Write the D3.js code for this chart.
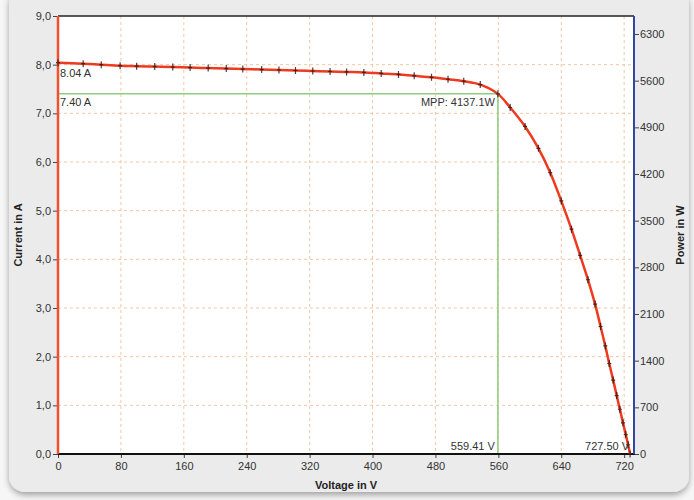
<!DOCTYPE html>
<html>
<head>
<meta charset="utf-8">
<script src="https://d3js.org/d3.v7.min.js"></script>
<style>
  body { margin: 0; background: #f6f6f6; }
  text { font-family: "Liberation Sans", Arial, sans-serif; }
</style>
</head>
<body></body>
<script>
  // I-V curve of a PV string
  var voltage = [0, 32, 55, 79, 100, 123, 146, 168, 191, 214, 235, 259, 281, 302, 324, 346, 367, 389,
                 411, 433, 453, 475, 496, 516, 537, 559.41, 575, 594, 611, 626, 640, 653, 664, 674, 683,
                 690, 696, 701, 706, 710.5, 714.5, 718.5, 722, 725, 727.5];
  var current = [8.04, 8.02, 8.00, 7.98, 7.97, 7.96, 7.95, 7.94, 7.93, 7.92, 7.91, 7.90, 7.89, 7.88, 7.87, 7.86, 7.85, 7.84,
                 7.82, 7.80, 7.77, 7.74, 7.70, 7.66, 7.59, 7.40, 7.12, 6.73, 6.28, 5.78, 5.20, 4.62, 4.08, 3.58, 3.08,
                 2.62, 2.22, 1.86, 1.52, 1.20, 0.92, 0.64, 0.40, 0.19, 0];
  var voltTicks = [0, 80, 160, 240, 320, 400, 480, 560, 640, 720];
  var currTicks = [0, 1, 2, 3, 4, 5, 6, 7, 8, 9];
  var powerTicks = [0, 700, 1400, 2100, 2800, 3500, 4200, 4900, 5600, 6300];
  var mppV = 559.41, mppI = 7.40, mppP = 4137.1;
  var iscI = 8.04, vocV = 727.50;

  var width = 694, height = 500;
  var plotL = 58, plotR = 634, plotT = 16, plotB = 454;

  var svg = d3.select("body").append("svg")
    .attr("width", width)
    .attr("height", height);

  // panel with shadow
  var defs = svg.append("defs");
  var f = defs.append("filter").attr("id", "shadow").attr("x", "-5%").attr("y", "-5%").attr("width", "110%").attr("height", "115%");
  f.append("feDropShadow").attr("dx", 0).attr("dy", 3).attr("stdDeviation", 3).attr("flood-color", "#000").attr("flood-opacity", 0.35);

  svg.append("rect")
    .attr("x", 9).attr("y", -12)
    .attr("width", 680).attr("height", 504)
    .attr("rx", 16)
    .style("fill", "#ebebeb")
    .attr("filter", "url(#shadow)");

  var x = d3.scaleLinear().domain([0, 732.5]).range([plotL, plotR]);
  var y = d3.scaleLinear().domain([0, 9]).range([plotB, plotT]);
  var yP = d3.scaleLinear().domain([0, 6570]).range([plotB, plotT]);

  // plot background
  svg.append("rect")
    .attr("x", plotL).attr("y", plotT)
    .attr("width", plotR - plotL).attr("height", plotB - plotT)
    .style("fill", "white");

  // grid
  var grid = svg.append("g");
  grid.selectAll("line.vx")
    .data(voltTicks.filter(function(d) { return d > 0; }))
    .enter().append("line")
    .attr("x1", function(d) { return x(d); })
    .attr("x2", function(d) { return x(d); })
    .attr("y1", plotT).attr("y2", plotB)
    .attr("stroke", "#f3c7a6")
    .attr("stroke-width", 1)
    .attr("stroke-dasharray", "3,3");
  grid.selectAll("line.hy")
    .data(currTicks.filter(function(d) { return d > 0 && d < 9; }))
    .enter().append("line")
    .attr("x1", plotL).attr("x2", plotR)
    .attr("y1", function(d) { return y(d); })
    .attr("y2", function(d) { return y(d); })
    .attr("stroke", "#f3c7a6")
    .attr("stroke-width", 1)
    .attr("stroke-dasharray", "3,3");

  // MPP guide lines
  svg.append("line")
    .attr("x1", plotL).attr("x2", x(mppV))
    .attr("y1", y(mppI)).attr("y2", y(mppI))
    .attr("stroke", "#8ccf7e").attr("stroke-width", 1.5);
  svg.append("line")
    .attr("x1", x(mppV)).attr("x2", x(mppV))
    .attr("y1", y(mppI)).attr("y2", plotB)
    .attr("stroke", "#8ccf7e").attr("stroke-width", 1.5);

  // axes
  var fmt = function(d) { return d3.format(".1f")(d).replace(".", ","); };

  var xAxis = svg.append("g")
    .attr("transform", "translate(0," + plotB + ")")
    .call(d3.axisBottom(x).tickValues(voltTicks).tickSize(4).tickPadding(4));
  var yAxis = svg.append("g")
    .attr("transform", "translate(" + plotL + ",0)")
    .call(d3.axisLeft(y).tickValues(currTicks).tickFormat(fmt).tickSize(5).tickPadding(2));
  var pAxis = svg.append("g")
    .attr("transform", "translate(" + plotR + ",0)")
    .call(d3.axisRight(yP).tickValues(powerTicks).tickFormat(d3.format("d")).tickSize(5).tickPadding(1));

  [xAxis, yAxis, pAxis].forEach(function(a) {
    a.select(".domain").remove();
    a.selectAll(".tick line").attr("stroke", "#444");
    a.selectAll(".tick text")
      .style("font-size", "11px")
      .style("fill", "#333");
  });

  // frame lines
  svg.append("line").attr("x1", plotL).attr("x2", plotR).attr("y1", plotT).attr("y2", plotT)
    .attr("stroke", "#222").attr("stroke-width", 1.5);
  svg.append("line").attr("x1", plotL).attr("x2", plotR + 1).attr("y1", plotB).attr("y2", plotB)
    .attr("stroke", "#111").attr("stroke-width", 2);
  svg.append("line").attr("x1", plotR).attr("x2", plotR).attr("y1", plotT).attr("y2", plotB)
    .attr("stroke", "#3346a8").attr("stroke-width", 2);
  svg.append("line").attr("x1", plotL).attr("x2", plotL).attr("y1", plotT).attr("y2", plotB)
    .attr("stroke", "#f0502e").attr("stroke-width", 2.5);

  // I-V curve
  var pts = voltage.map(function(v, i) { return [v, current[i]]; });
  var line = d3.line()
    .x(function(d) { return x(d[0]); })
    .y(function(d) { return y(d[1]); })
    .curve(d3.curveCatmullRom.alpha(0.5));

  svg.append("path")
    .datum(pts)
    .attr("d", line)
    .attr("fill", "none")
    .attr("stroke", "#ee3a1e")
    .attr("stroke-width", 2.5);

  // markers (small crosses)
  var m = svg.append("g");
  m.selectAll("path")
    .data(pts)
    .enter().append("path")
    .attr("d", function(d) {
      var cx = x(d[0]), cy = y(d[1]);
      return "M" + (cx - 2) + "," + cy + "H" + (cx + 2) + "M" + cx + "," + (cy - 3.5) + "V" + (cy + 3.5);
    })
    .attr("stroke", "#3a1a14")
    .attr("stroke-width", 1.2)
    .attr("opacity", 0.85);

  // annotations
  var lab = svg.append("g").style("font-size", "11px").style("fill", "#333");
  lab.append("text").attr("x", plotL + 2).attr("y", y(iscI) + 14).text(d3.format(".2f")(iscI) + " A");
  lab.append("text").attr("x", plotL + 2).attr("y", y(mppI) + 12).text(d3.format(".2f")(mppI) + " A");
  lab.append("text").attr("x", x(mppV) - 3).attr("y", y(mppI) + 12)
    .attr("text-anchor", "end").text("MPP: " + mppP + "W");
  lab.append("text").attr("x", x(mppV) - 3).attr("y", plotB - 4)
    .attr("text-anchor", "end").text(d3.format(".2f")(mppV) + " V");
  lab.append("text").attr("x", x(vocV) - 1).attr("y", plotB - 4)
    .attr("text-anchor", "end").text(d3.format(".2f")(vocV) + " V");

  // axis titles
  svg.append("text")
    .attr("x", (plotL + plotR) / 2).attr("y", 489)
    .attr("text-anchor", "middle")
    .style("font-size", "11px").style("font-weight", "bold").style("fill", "#222")
    .text("Voltage in V");
  svg.append("text")
    .attr("transform", "translate(22," + ((plotT + plotB) / 2) + ") rotate(-90)")
    .attr("text-anchor", "middle")
    .style("font-size", "11px").style("font-weight", "bold").style("fill", "#222")
    .text("Current in A");
  svg.append("text")
    .attr("transform", "translate(684," + ((plotT + plotB) / 2) + ") rotate(-90)")
    .attr("text-anchor", "middle")
    .style("font-size", "11px").style("font-weight", "bold").style("fill", "#222")
    .text("Power in W");
</script>
</html>
